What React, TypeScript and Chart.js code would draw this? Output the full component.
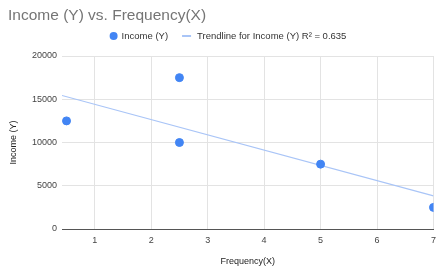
import React, { useEffect, useRef } from "react";
import { Chart, registerables } from "chart.js";

Chart.register(...registerables);

const frequency = [0.5, 2.5, 2.5, 5, 7];
const income = [12500, 17500, 10000, 7500, 2500];
const xTicks = [1, 2, 3, 4, 5, 6, 7];
const yTicks = [0, 5000, 10000, 15000, 20000];
const xRange = [0.42, 7];
const titleText = "Income (Y) vs. Frequency(X)";

function regression(xs: number[], ys: number[]) {
  const n = xs.length;
  const mx = xs.reduce((a, b) => a + b, 0) / n;
  const my = ys.reduce((a, b) => a + b, 0) / n;
  let sxy = 0, sxx = 0, syy = 0;
  for (let i = 0; i < n; i++) {
    sxy += (xs[i] - mx) * (ys[i] - my);
    sxx += (xs[i] - mx) ** 2;
    syy += (ys[i] - my) ** 2;
  }
  const slope = sxy / sxx;
  const intercept = my - slope * mx;
  const r2 = (sxy * sxy) / (sxx * syy);
  return { slope, intercept, r2 };
}

const FONT = "'Liberation Sans', Arial, sans-serif";
const BLUE = "#4285F4";
const TREND = "#a9c5f7";

const headerPlugin = {
  id: "header",
  afterDraw(chart: any) {
    const ctx = chart.ctx as CanvasRenderingContext2D;
    ctx.save();
    ctx.textBaseline = "middle";
    ctx.textAlign = "left";
    ctx.fillStyle = "#757575";
    ctx.font = `15.5px ${FONT}`;
    ctx.fillText(titleText, 8, 16);

    const ds = chart.data.datasets;
    ctx.font = `9.5px ${FONT}`;
    const w1 = ctx.measureText(ds[0].label).width;
    const w2 = ctx.measureText(ds[1].label).width;
    const total = 8 + 4 + w1 + 14 + 9 + 6 + w2;
    let x = 228 - total / 2;
    const y = 36;
    ctx.fillStyle = BLUE;
    ctx.beginPath();
    ctx.arc(x + 4, y, 4, 0, Math.PI * 2);
    ctx.fill();
    x += 12;
    ctx.fillStyle = "#333";
    ctx.fillText(ds[0].label, x, y);
    x += w1 + 14;
    ctx.strokeStyle = TREND;
    ctx.lineWidth = 2;
    ctx.beginPath();
    ctx.moveTo(x, y);
    ctx.lineTo(x + 9, y);
    ctx.stroke();
    x += 15;
    ctx.fillText(ds[1].label, x, y);
    ctx.restore();
  },
};

export default function App() {
  const ref = useRef<HTMLCanvasElement | null>(null);
  useEffect(() => {
    document.body.style.margin = "0";
    const { slope, intercept, r2 } = regression(frequency, income);
    const trend = xRange.map((x) => ({ x, y: intercept + slope * x }));
    const chart = new Chart(ref.current!, {
      type: "scatter",
      data: {
        datasets: [
          {
            label: "Income (Y)",
            data: frequency.map((x, i) => ({ x, y: income[i] })),
            backgroundColor: BLUE,
            borderColor: BLUE,
            pointRadius: 4,
            pointStyle: "circle",
          },
          {
            type: "line",
            label: `Trendline for Income (Y) R² = ${r2.toFixed(3)}`,
            data: trend,
            borderColor: TREND,
            backgroundColor: TREND,
            borderWidth: 1.2,
            pointRadius: 0,
          } as any,
        ],
      },
      plugins: [headerPlugin],
      options: {
        animation: false,
        responsive: false,
        layout: { padding: { left: 8, right: 2, top: 56, bottom: 0 } },
        plugins: {
          title: { display: false },
          legend: { display: false },
          tooltip: { enabled: false },
        },
        scales: {
          x: {
            type: "linear",
            min: xRange[0],
            max: xRange[1],
            afterBuildTicks: (s: any) => {
              s.ticks = xTicks.map((v) => ({ value: v }));
            },
            afterFit: (s: any) => {
              s.height = 44;
            },
            grid: { color: "#e3e3e3", drawTicks: false },
            border: { color: "#555", width: 1 },
            ticks: {
              color: "#444",
              font: { family: FONT, size: 9 },
              padding: 6,
              callback: (v: any) => String(v),
            },
            title: {
              display: true,
              text: "Frequency(X)",
              color: "#222",
              font: { family: FONT, size: 9 },
              padding: { top: 3, bottom: 6 },
            },
          },
          y: {
            type: "linear",
            min: 0,
            max: 20000,
            afterBuildTicks: (s: any) => {
              s.ticks = yTicks.map((v) => ({ value: v }));
            },
            afterFit: (s: any) => {
              s.width = 54;
            },
            grid: { color: "#e3e3e3", drawTicks: false },
            border: { display: false },
            ticks: {
              color: "#444",
              font: { family: FONT, size: 9 },
              padding: 5,
              callback: (v: any) => String(v),
            },
            title: {
              display: true,
              text: "Income (Y)",
              color: "#222",
              font: { family: FONT, size: 9 },
              padding: { top: 0, bottom: 6 },
            },
          },
        },
      },
    });
    return () => chart.destroy();
  }, []);
  return <canvas ref={ref} width={442} height={273} style={{ display: "block" }} />;
}
